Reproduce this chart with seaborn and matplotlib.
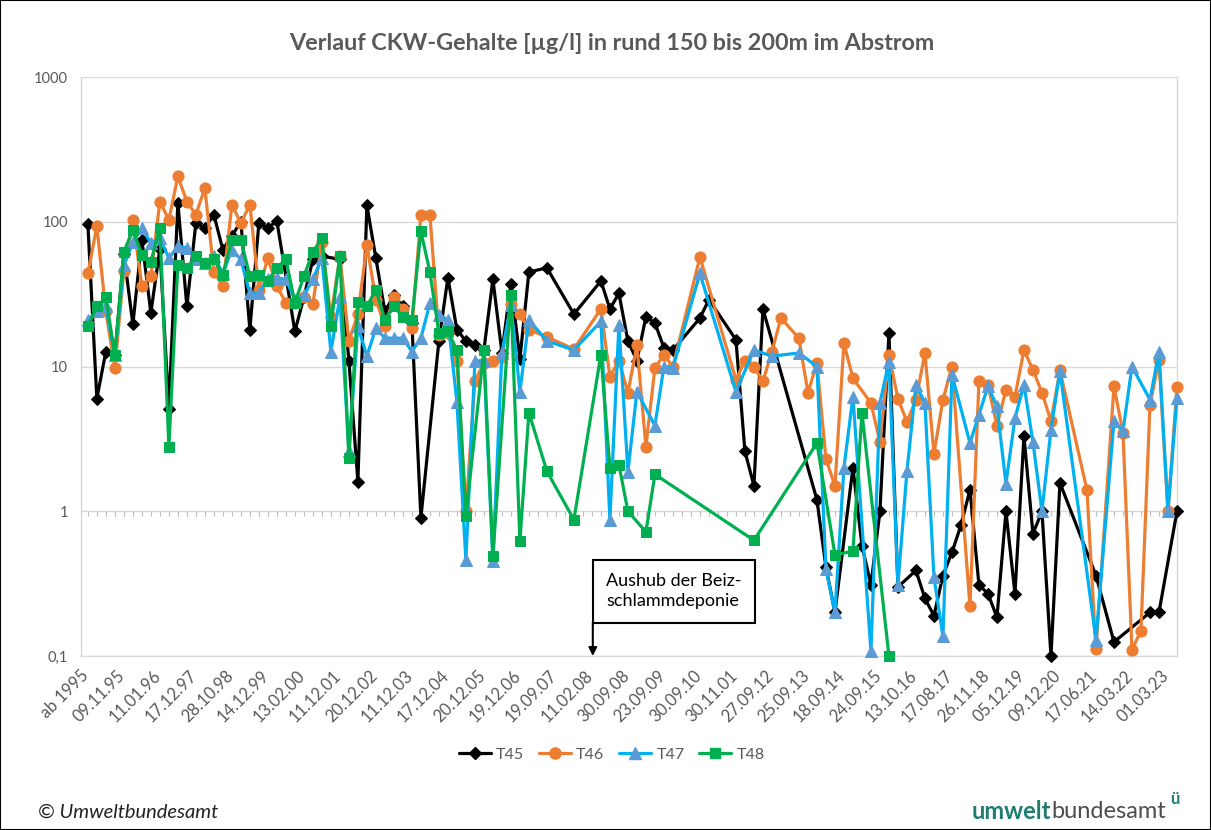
import numpy as np
import pandas as pd
import matplotlib
matplotlib.use("Agg")
import matplotlib.pyplot as plt
import matplotlib.transforms as mtransforms
import seaborn as sns
from matplotlib.lines import Line2D
from matplotlib.patches import Rectangle

nan = np.nan

# every 4th sampling date is labelled on the category axis
tick_labels = ["ab 1995", "09.11.95", "11.01.96", "17.12.97", "28.10.98", "14.12.99",
               "13.02.00", "11.12.01", "20.12.02", "11.12.03", "17.12.04", "20.12.05",
               "19.12.06", "19.09.07", "11.02.08", "30.09.08", "23.09.09", "30.09.10",
               "30.11.01", "27.09.12", "25.09.13", "18.09.14", "24.09.15", "13.10.16",
               "17.08.17", "26.11.18", "05.12.19", "09.12.20", "17.06.21", "14.03.22",
               "01.03.23"]
label_step = 4
n_dates = 122

# CKW in ug/l per sampling (nan = not measured)
t45 = [97, 6.0, 12.7, 12, 60, 19.6, 75, 23.5, 65, 5.1,
       135, 26, 98, 91, 112, 64, 80, 100, 18, 98,
       91, 101, nan, 17.5, 30, 55, 58, nan, 55, 11,
       1.6, 130, 56, 24, 31, 26, 20, 0.9, nan, 15,
       41, 18, 15, 14, 13, 40, 12.5, 37, 11.3, 45,
       nan, 48, nan, nan, 23, nan, nan, 39, 25, 32,
       15, 11, 22, 20, 13.5, 13, nan, nan, 21.6, 29,
       nan, nan, 15.3, 2.6, 1.5, 25, nan, nan, nan, nan,
       nan, 1.2, 0.41, 0.2, nan, 2.0, 0.58, 0.31, 1.0, 17,
       0.3, nan, 0.39, 0.25, 0.19, 0.36, 0.52, 0.8, 1.41, 0.31,
       0.27, 0.185, 1.0, 0.27, 3.3, 0.7, 1.0, 0.1, 1.57, nan,
       nan, nan, 0.36, nan, 0.125, nan, nan, nan, 0.2, 0.2,
       nan, 1.0]
t46 = [44, 93, 24, 9.8, 46, 103, 36, 42, 138, 103,
       206, 138, 112, 171, 45, 36, 131, 98, 131, 34,
       56, 36, 27.5, 27.5, 30, 27, 73, 22, 58, 15,
       23, 69, 29, 19, 30, 25, 18.4, 112, 112, 16.6,
       17, 11, 1.0, 7.9, 10.6, 11, 11.7, 27, 23, 18,
       nan, 16, nan, nan, 13.2, nan, nan, 25, 8.5, 11,
       6.6, 14, 2.8, 9.8, 12, 10, nan, nan, 57, nan,
       nan, nan, 8.1, 11, 10, 7.9, 12.7, 21.6, nan, 15.7,
       6.6, 10.6, 2.3, 1.5, 14.5, 8.3, nan, 5.6, 3.0, 12,
       6.0, 4.15, 5.9, 12.4, 2.5, 5.9, 10, nan, 0.22, 8.0,
       7.5, 3.9, 6.9, 6.2, 13, 9.5, 6.6, 4.2, 9.4, nan,
       nan, 1.4, 0.111, nan, 7.3, 3.5, 0.11, 0.15, 5.45, 11.1,
       1.0, 7.2]
t47 = [21, 24, 26, 12, 50, 72, 91, 71, 77, 56,
       68, 66, 55, 52, 58, 44, 64, 55, 32, 32,
       40, 41, 40, 29, 31, 40, 56, 12.7, 30, 2.6,
       19, 11.8, 18.4, 15.7, 15.7, 15.7, 12.7, 15.7, 27.4, 22.8,
       21, 5.7, 0.46, 10.9, 11, 0.45, 12.4, 26.7, 6.7, 21,
       nan, 15, nan, nan, 13, nan, nan, 20.5, 0.875, 19.5,
       1.88, 6.7, nan, 3.9, 10, 9.8, nan, nan, 44, nan,
       nan, nan, 6.7, nan, 13, nan, 11.8, nan, nan, 12.4,
       nan, 10, 0.4, 0.2, 2.0, 6.2, nan, 0.108, 5.6, 10.8,
       0.31, 1.89, 7.5, 5.6, 0.35, 0.137, 8.8, nan, 2.96, 4.65,
       7.3, 5.3, 1.55, 4.4, 7.5, 3.0, 1.0, 3.66, 9.3, nan,
       nan, nan, 0.13, nan, 4.2, 3.57, 10, nan, 5.9, 12.7,
       1.0, 6.1]
t48 = [19, 26, 30, 12, 62, 88, 59, 53, 91, 2.8,
       50, 48, 58, 52, 55, 43, 75, 75, 42, 43,
       39, 48, 55, 27.5, 42, 62, 77, 19, 58, 2.33,
       28, 26, 34, 21, 26, 22, 21, 86, 45, 17,
       17.5, 13, 0.93, nan, 13, 0.49, nan, 31, 0.62, 4.8,
       nan, 1.89, nan, nan, 0.875, nan, nan, 12.1, 2.0, 2.1,
       1.0, nan, 0.72, 1.8, nan, nan, nan, nan, nan, nan,
       nan, nan, nan, nan, 0.63, nan, nan, nan, nan, nan,
       nan, 2.96, nan, 0.5, nan, 0.53, 4.8, nan, nan, 0.1] + [nan] * 32

wells = ["T45", "T46", "T47", "T48"]
line_colors = ["#000000", "#ED7D31", "#00B0F0", "#00B050"]
marker_colors = ["#000000", "#ED7D31", "#5B9BD5", "#00B050"]
markers = ["D", "o", "^", "s"]
marker_sizes = [6.5, 8, 8.5, 6.5]

GREY = "#595959"

sns.set_style("white")
plt.rcParams["font.family"] = ["Lato", "DejaVu Sans"]

fig = plt.figure(figsize=(12.11, 8.30), dpi=100)
ax = fig.add_axes([0.0666, 0.2096, 0.9053, 0.6976])
ax.set_yscale("log")

idx = np.arange(n_dates)
handles = []
for name, vals, lc, mc, mk, ms in zip(wells, [t45, t46, t47, t48], line_colors,
                                      marker_colors, markers, marker_sizes):
    d = pd.DataFrame({"idx": idx, "value": vals}).dropna()
    sns.lineplot(data=d, x="idx", y="value", ax=ax, color=lc, marker=mk,
                 markersize=ms, markerfacecolor=mc, markeredgecolor=mc,
                 linewidth=2.3, estimator=None, sort=False, legend=False,
                 clip_on=False, zorder=3)
    ln = ax.lines[-1]
    ln.set_markerfacecolor(mc)
    ln.set_markeredgecolor(mc)
    handles.append(Line2D([], [], color=lc, marker=mk, markersize=ms,
                          markerfacecolor=mc, markeredgecolor=mc, linewidth=2.3))

ax.set_ylim(0.1, 1000)
ax.set_xlim(-0.8, n_dates - 1)
ax.set_yticks([0.1, 1, 10, 100, 1000])
ax.set_yticklabels(["0,1", "1", "10", "100", "1000"])
ax.minorticks_off()
ax.set_xticks(idx[::label_step])
ax.set_xticklabels(tick_labels, rotation=45, ha="right", rotation_mode="anchor")
ax.tick_params(axis="both", length=0, colors=GREY, labelsize=10.5)
ax.tick_params(axis="x", pad=8, labelsize=12)
ax.tick_params(axis="y", pad=9)
# nudge the slanted date labels a little to the left, as in the original
shift = mtransforms.ScaledTranslation(-7 / 100, 0, fig.dpi_scale_trans)
for lbl in ax.get_xticklabels():
    lbl.set_transform(lbl.get_transform() + shift)
ax.set_xlabel("")
ax.set_ylabel("")
ax.grid(axis="y", color="#D9D9D9", linewidth=1)
ax.set_axisbelow(True)
for side in ["left", "right", "bottom"]:
    ax.spines[side].set_color("#D9D9D9")
    ax.spines[side].set_linewidth(1)
ax.spines["top"].set_visible(False)

# category axis crosses at 1 -> small tick marks along that line
ax.vlines(idx, 10 ** (-0.035), 1, color="#BFBFBF", linewidth=0.8, zorder=1)

fig.text(0.505, 0.948, "Verlauf CKW-Gehalte [µg/l] in rund 150 bis 200m im Abstrom",
         ha="center", va="center", fontsize=16.8, fontweight="bold", color=GREY)

# note on the excavation of the pickling sludge dump
ax.text(57.6, 0.211, "Aushub der Beiz-\nschlammdeponie", ha="left", va="bottom",
        fontsize=13, color="black", linespacing=1.3, zorder=5,
        bbox=dict(boxstyle="square,pad=0.75", fc="white", ec="black", lw=1.5))
ax.annotate("", xy=(56.1, 0.1), xytext=(56.1, 0.170), xycoords="data",
            textcoords="data",
            arrowprops=dict(arrowstyle="-|>", color="black", lw=1.5,
                            shrinkA=0, shrinkB=0, mutation_scale=12),
            zorder=5)

fig.legend(handles=handles, labels=wells, loc="center", bbox_to_anchor=(0.505, 0.0905),
           ncol=4, frameon=False, fontsize=11.5, handlelength=2.0, columnspacing=0.9,
           handletextpad=0.35, labelcolor=GREY)

fig.text(38 / 1211, 0.022, "© Umweltbundesamt", ha="left", va="center",
         fontsize=14.5, fontstyle="italic", color="#222222")

t2 = fig.text(1166 / 1211, 0.022, "bundesamt", ha="right", va="center",
              fontsize=17, color="#4D4D4D")
fig.canvas.draw()
bb = t2.get_window_extent()
fig.text(bb.x0 / fig.bbox.width, 0.022, "umwelt", ha="right", va="center",
         fontsize=17, fontweight="bold", color="#1E7D6F")
fig.text(1175 / 1211, 0.037, "ü", ha="center", va="center",
         fontsize=12, fontweight="bold", color="#1E7D6F")

fig.patches.append(Rectangle((0, 0), 1, 1, transform=fig.transFigure, fill=False,
                             edgecolor="black", linewidth=1.5))

fig.savefig("out.png", dpi=100)
